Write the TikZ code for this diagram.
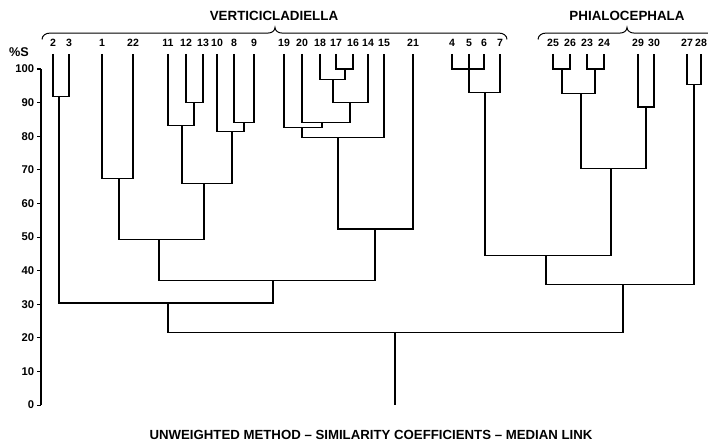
\documentclass[tikz,border=0pt]{standalone}
\usepackage{fontspec}
\setmainfont{Liberation Sans}
\usetikzlibrary{positioning}

\begin{document}
\begin{tikzpicture}[x=0.025cm, y=0.084cm, line width=0.8pt,
    font=\bfseries\fontsize{7.5}{9}\selectfont,
    leaf/.style={anchor=base, inner xsep=0pt, inner ysep=5pt},
    grp/.style={font=\bfseries\fontsize{9.5}{11}\selectfont},
    tick/.style={anchor=east, inner sep=1pt, font=\bfseries\fontsize{8}{9}\selectfont},
    brace/.style={line width=0.7pt}]
  \useasboundingbox (0,-10.71) rectangle (708,120.54);
  % similarity axis
  \draw (41,100) -- (41,0);
  \foreach \s in {0,10,...,100} {
    \node[tick] (t\s) at (36,\s) {\s};
    \draw (37,\s) -- (41,\s);
  }
  \node[font=\bfseries\fontsize{9}{10}\selectfont] (pct) at (19,105) {\%S};
  % strain numbers along the top
  \foreach \n/\x in {2/53,3/69,1/102,22/133,11/168,12/186,13/203,10/217,8/234,9/254,
                     19/284,20/302,18/320,17/336,16/353,14/368,15/384,21/413,
                     4/452,5/469,6/484,7/500,25/553,26/570,23/587,24/604,
                     29/638,30/654,27/687,28/701}
    \node[leaf] (n\n) at (\x,106.8) {\n};
  % genera with their braces
  \node[grp] (vert) at (274,115.8) {VERTICICLADIELLA};
  \node[grp] (phia) at (627,115.8) {PHIALOCEPHALA};
  \draw[brace] (42,108.8) to[out=90,in=180] (50,110.7) -- (268,110.7)
    to[out=0,in=-90] (275,112.4) to[out=-90,in=180] (282,110.7) -- (499,110.7)
    to[out=0,in=90] (507,108.8);
  \draw[brace] (538,108.8) to[out=90,in=180] (546,110.7) -- (620,110.7)
    to[out=0,in=-90] (627,112.4) to[out=-90,in=180] (634,110.7) -- (708,110.7)
    to[out=0,in=90] (716,108.8);
  % merge points (x in px, y in %S)
  \coordinate (c2) at (59,91.7);
  \coordinate (c1) at (119,67.3);
  \coordinate (c12) at (194,90);
  \coordinate (c11) at (182,83.3);
  \coordinate (c8) at (244,84);
  \coordinate (c10) at (232,81.5);
  \coordinate (cA) at (204,66);
  \coordinate (cB) at (159,49.4);
  \coordinate (c17) at (345,100);
  \coordinate (c18) at (333,97);
  \coordinate (c14) at (350,90);
  \coordinate (c20) at (322,84);
  \coordinate (c19) at (302,82.5);
  \coordinate (c15) at (338,79.5);
  \coordinate (c21) at (375,52.4);
  \coordinate (cC) at (273,37);
  \coordinate (cD) at (168,30.4);
  \coordinate (c4) at (469,100);
  \coordinate (c7) at (485,92.9);
  \coordinate (c25) at (562,100);
  \coordinate (c24) at (595,100);
  \coordinate (cE) at (581,92.6);
  \coordinate (c29) at (646,88.7);
  \coordinate (cF) at (611,70.5);
  \coordinate (cG) at (546,44.6);
  \coordinate (c27) at (694,95.5);
  \coordinate (cH) at (623,36);
  \coordinate (root) at (395,21.7);
  \coordinate (base) at (395,0);
  % Verticicladiella
  \draw (n2.south) |- (c2) -| (n3.south);
  \draw (n1.south) |- (c1) -| (n22.south);
  \draw (n12.south) |- (c12) -| (n13.south);
  \draw (n11.south) |- (c11) -| (c12);
  \draw (n8.south) |- (c8) -| (n9.south);
  \draw (n10.south) |- (c10) -| (c8);
  \draw (c11) |- (cA) -| (c10);
  \draw (c1) |- (cB) -| (cA);
  \draw (n17.south) |- (c17) -| (n16.south);
  \draw (n18.south) |- (c18) -| (c17);
  \draw (c18) |- (c14) -| (n14.south);
  \draw (n20.south) |- (c20) -| (c14);
  \draw (n19.south) |- (c19) -| (c20);
  \draw (c19) |- (c15) -| (n15.south);
  \draw (c15) |- (c21) -| (n21.south);
  \draw (cB) |- (cC) -| (c21);
  \draw (c2) |- (cD) -| (cC);
  % Phialocephala
  \draw (n4.south) |- (c4) -| (n6.south);
  \draw (n5.south) |- (c7) -| (n7.south);
  \draw (n25.south) |- (c25) -| (n26.south);
  \draw (n23.south) |- (c24) -| (n24.south);
  \draw (c25) |- (cE) -| (c24);
  \draw (n29.south) |- (c29) -| (n30.south);
  \draw (cE) |- (cF) -| (c29);
  \draw (c7) |- (cG) -| (cF);
  \draw (n27.south) |- (c27) -| (n28.south);
  \draw (cG) |- (cH) -| (c27);
  % root
  \draw (cD) |- (root) -| (cH);
  \draw (root) -- (base);
  \node[font=\bfseries\fontsize{9.4}{11}\selectfont] (title) at (371,-8.9)
    {UNWEIGHTED METHOD -- SIMILARITY COEFFICIENTS -- MEDIAN LINK};
\end{tikzpicture}
\end{document}
